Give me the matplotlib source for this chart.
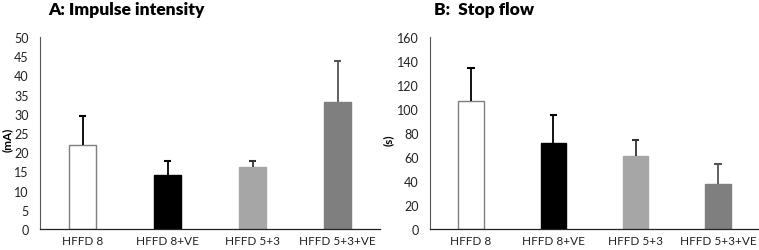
import matplotlib
matplotlib.use("Agg")
import matplotlib.pyplot as plt
import numpy as np

plt.rcParams['font.family'] = ['Lato', 'DejaVu Sans']

categories = ["HFFD 8", "HFFD 8+VE", "HFFD 5+3", "HFFD 5+3+VE"]
impulse_mean = [22.0, 14.0, 16.1, 33.2]
impulse_err = [7.3, 3.6, 1.7, 10.5]
stopflow_mean = [106.8, 71.5, 60.5, 37.2]
stopflow_err = [27.7, 23.3, 13.5, 16.6]

face_colors = ["white", "#000000", "#a6a6a6", "#7f7f7f"]
edge_colors = ["#7f7f7f", "#000000", "#a6a6a6", "#7f7f7f"]
err_colors = ["#000000", "#000000", "#333333", "#555555"]

W, H = 759, 251
fig = plt.figure(figsize=(W / 100, H / 100), dpi=100)

def make_panel(rect, means, errs, ymax, ystep, ylabel, title, title_x, ylabel_x):
    ax = fig.add_axes(rect)
    x = np.arange(len(categories))
    ax.bar(x, means, width=0.31, color=face_colors, edgecolor=edge_colors, linewidth=1.0)
    tops = [m + e for m, e in zip(means, errs)]
    ax.vlines(x, means, tops, colors=err_colors, linewidth=1.3, zorder=3)
    ax.hlines(tops, x - 0.045, x + 0.045, colors=err_colors, linewidth=1.5, zorder=3)
    ax.set_xlim(-0.5, len(categories) - 0.5)
    ax.set_ylim(0, ymax)
    ax.set_yticks(np.arange(0, ymax + 0.1, ystep))
    ax.set_xticks(x)
    ax.set_xticklabels(categories)
    ax.tick_params(axis='both', length=0, labelsize=9, colors='#222222')
    ax.tick_params(axis='x', labelsize=8.5)
    ax.tick_params(axis='y', pad=8)
    ax.tick_params(axis='x', pad=4)
    for s in ['top', 'right']:
        ax.spines[s].set_visible(False)
    ax.spines['left'].set_color('#555555')
    ax.spines['bottom'].set_color('#222222')
    ax.spines['left'].set_linewidth(0.8)
    ax.spines['bottom'].set_linewidth(0.9)
    fig.text(ylabel_x / W, 1 - 140 / H, ylabel, rotation=90, fontsize=8.5,
             fontweight='bold', ha='center', va='center')
    fig.text(title_x / W, 1 - 10 / H, title, fontsize=12.5, fontweight='heavy',
             ha='left', va='center')
    return ax

make_panel([40 / W, 1 - 230 / H, 340 / W, 192 / H], impulse_mean, impulse_err,
           50, 5, "(mA)", "A: Impulse intensity", 48, 7)
make_panel([430 / W, 1 - 230 / H, 329 / W, 192 / H], stopflow_mean, stopflow_err,
           160, 20, "(s)", "B:  Stop flow", 434, 388)

fig.savefig("out.png", dpi=100)
